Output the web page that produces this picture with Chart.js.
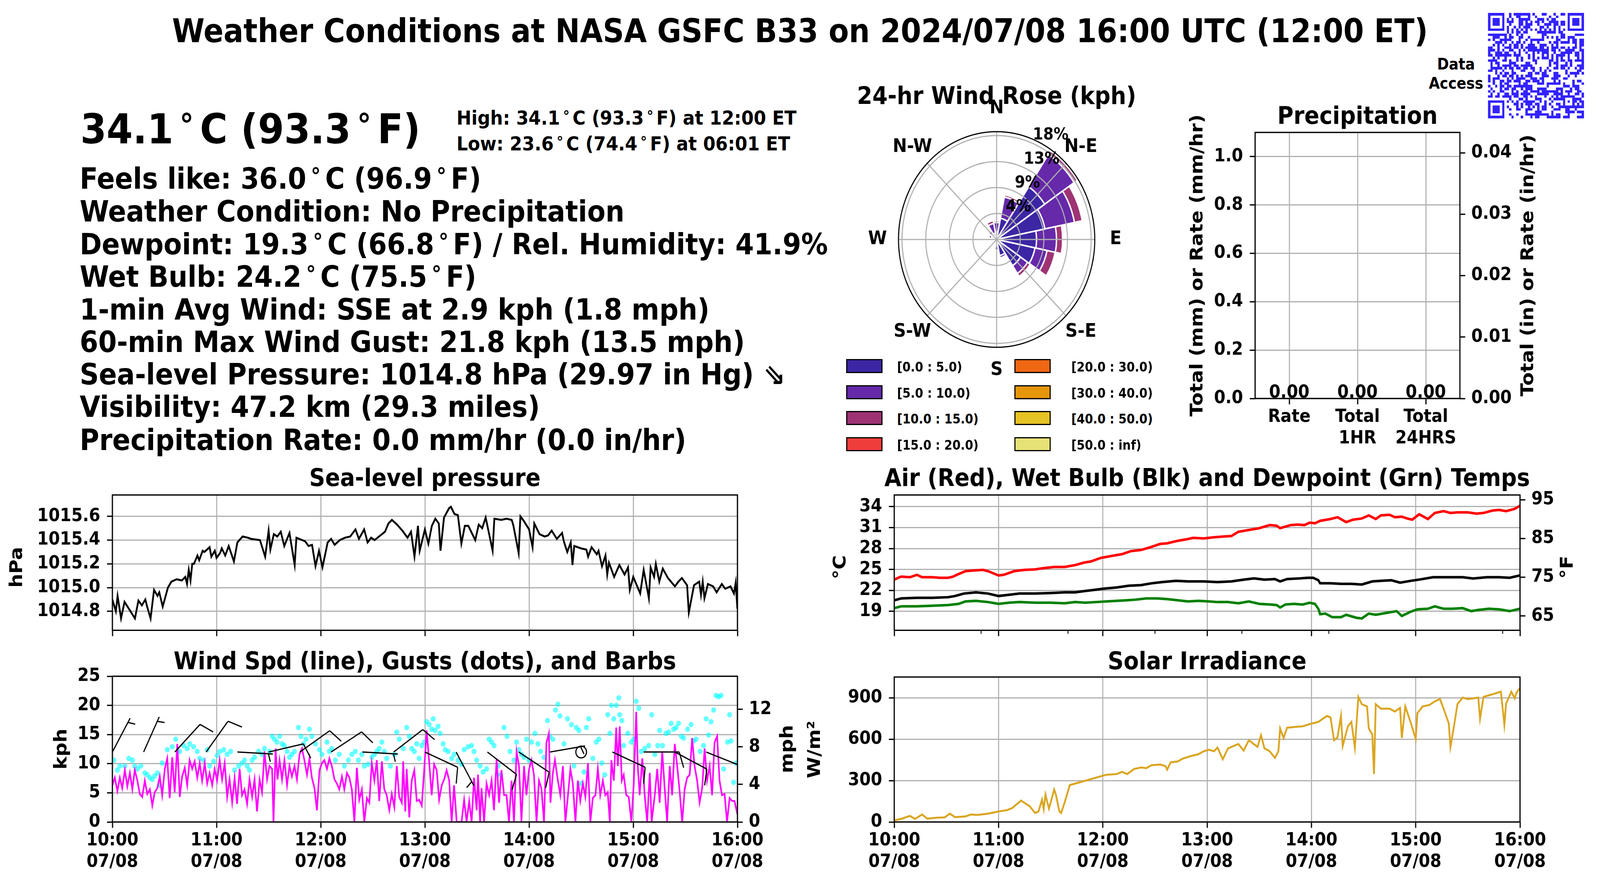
<!DOCTYPE html>
<html><head><meta charset="utf-8">
<script src="https://cdn.jsdelivr.net/npm/chart.js@4.4.1/dist/chart.umd.min.js"></script>
<style>
html,body{margin:0;padding:0;background:#fff;overflow:hidden;}
#page{width:4500px;height:2250px;position:absolute;left:0;top:0;overflow:hidden;transform-origin:0 0;font-family:"DejaVu Sans";font-weight:bold;color:#000;background:#fff;}
.t{position:absolute;white-space:nowrap;line-height:1;}
.dg{font-size:0.75em;position:relative;top:-0.24em;margin:0 0.22em;}
.lb{position:absolute;width:96px;height:30px;border:3px solid #000;}
canvas{position:absolute;}
</style></head><body>
<div id="page">
<div class="t" style="left:0;width:4500px;text-align:center;top:38px;font-size:83px">Weather Conditions at NASA GSFC B33 on 2024/07/08 16:00 UTC (12:00 ET)</div>
<div class="t" style="left:4000px;width:190px;text-align:center;top:144px;font-size:40px">Data</div>
<div class="t" style="left:4000px;width:190px;text-align:center;top:193px;font-size:40px">Access</div>
<div class="t" style="left:226px;top:278px;font-size:106px">34.1<span class="dg">°</span>C (93.3<span class="dg">°</span>F)</div>
<div class="t" style="left:1284px;top:277px;font-size:50px">High: 34.1<span class="dg">°</span>C (93.3<span class="dg">°</span>F) at 12:00 ET</div>
<div class="t" style="left:1284px;top:343px;font-size:50px">Low: 23.6<span class="dg">°</span>C (74.4<span class="dg">°</span>F) at 06:01 ET</div>
<div class="t" style="left:224px;top:420px;font-size:75px">Feels like: 36.0<span class="dg">°</span>C (96.9<span class="dg">°</span>F)</div>
<div class="t" style="left:224px;top:504px;font-size:75px">Weather Condition: No Precipitation</div>
<div class="t" style="left:224px;top:588px;font-size:75px">Dewpoint: 19.3<span class="dg">°</span>C (66.8<span class="dg">°</span>F) / Rel. Humidity: 41.9%</div>
<div class="t" style="left:224px;top:671px;font-size:75px">Wet Bulb: 24.2<span class="dg">°</span>C (75.5<span class="dg">°</span>F)</div>
<div class="t" style="left:224px;top:755px;font-size:75px">1-min Avg Wind: SSE at 2.9 kph (1.8 mph)</div>
<div class="t" style="left:224px;top:838px;font-size:75px">60-min Max Wind Gust: 21.8 kph (13.5 mph)</div>
<div class="t" style="left:224px;top:921px;font-size:75px">Sea-level Pressure: 1014.8 hPa (29.97 in Hg) ⇘</div>
<div class="t" style="left:224px;top:1004px;font-size:75px">Visibility: 47.2 km (29.3 miles)</div>
<div class="t" style="left:224px;top:1089px;font-size:75px">Precipitation Rate: 0.0 mm/hr (0.0 in/hr)</div>
</div>
<script>
// ---------------- DATA ----------------
const hourTicks = [0,60,120,180,240,300,360];
const hourLabels = ['10:00','11:00','12:00','13:00','14:00','15:00','16:00'];
const dateLabel = '07/08';

const pressureTicks = [1014.8,1015.0,1015.2,1015.4,1015.6];
const pressureSeries = [[0,1014.90],[2,1014.80],[3,1014.93],[5,1014.74],[7,1014.88],[13,1014.74],[15,1014.89],[17,1014.85],[19,1014.90],[20,1014.84],[22,1014.74],[24,1014.98],[26,1014.93],[27,1014.96],[29,1014.84],[32,1015.00],[34,1015.05],[37,1015.07],[40,1015.06],[42,1015.09],[43,1015.03],[44,1015.15],[45,1015.06],[46,1015.20],[47,1015.20],[49,1015.27],[50,1015.23],[52,1015.31],[53,1015.30],[56,1015.34],[57,1015.26],[59,1015.31],[60,1015.25],[62,1015.29],[63,1015.33],[65,1015.27],[67,1015.35],[70,1015.22],[72,1015.38],[75,1015.43],[78,1015.42],[80,1015.41],[85,1015.40],[88,1015.26],[90,1015.48],[91,1015.32],[93,1015.45],[95,1015.43],[97,1015.47],[99,1015.35],[102,1015.46],[105,1015.19],[106,1015.42],[111,1015.39],[113,1015.35],[115,1015.36],[117,1015.18],[119,1015.31],[121,1015.17],[124,1015.38],[126,1015.41],[128,1015.36],[131,1015.40],[134,1015.42],[137,1015.43],[140,1015.49],[142,1015.41],[145,1015.49],[147,1015.38],[149,1015.42],[151,1015.40],[157,1015.47],[159,1015.54],[161,1015.57],[164,1015.53],[167,1015.48],[170,1015.42],[172,1015.47],[174,1015.26],[176,1015.52],[177,1015.31],[180,1015.49],[182,1015.37],[184,1015.52],[186,1015.58],[188,1015.54],[189,1015.31],[191,1015.59],[194,1015.67],[195,1015.68],[197,1015.62],[199,1015.61],[201,1015.37],[203,1015.52],[205,1015.52],[209,1015.40],[211,1015.53],[213,1015.50],[215,1015.59],[217,1015.45],[219,1015.31],[220,1015.58],[224,1015.57],[227,1015.58],[230,1015.57],[231,1015.52],[234,1015.29],[235,1015.60],[237,1015.56],[240,1015.49],[242,1015.34],[243,1015.54],[246,1015.45],[249,1015.43],[251,1015.44],[253,1015.48],[256,1015.41],[259,1015.46],[260,1015.39],[262,1015.30],[264,1015.38],[265,1015.19],[266,1015.35],[270,1015.33],[273,1015.32],[274,1015.26],[276,1015.34],[279,1015.28],[280,1015.31],[282,1015.18],[284,1015.27],[285,1015.11],[286,1015.21],[289,1015.09],[292,1015.19],[295,1015.11],[297,1015.17],[298,1014.98],[300,1015.09],[304,1014.95],[306,1015.15],[309,1014.91],[310,1015.17],[312,1015.09],[313,1015.20],[315,1015.05],[317,1015.16],[320,1015.08],[324,1015.01],[326,1015.05],[328,1015.08],[331,1015.02],[332,1014.79],[335,1015.02],[338,1015.05],[339,1014.94],[340,1015.05],[341,1014.91],[343,1015.03],[346,1015.01],[348,1014.96],[351,1015.03],[353,1014.99],[356,1015.01],[358,1014.95],[359,1015.04],[360,1014.82]];

const kphTicks = [0,5,10,15,20,25];
const mphTicks = [0,2,4,6,8,10,12,14];
const windSpeed = [[0,6.3],[1.4,7.6],[2.9,5.3],[4.3,7.6],[5.7,5.8],[7.2,8.9],[8.6,6.1],[10.1,8.4],[11.5,5.6],[12.9,8.9],[14.4,7.1],[15.8,4.8],[17.2,4.3],[18.7,7.1],[20.1,4.8],[21.6,5.6],[23,2.8],[24.4,5.1],[25.9,5.8],[27.3,7.8],[28.7,4.6],[30.2,9.1],[31.6,10.9],[33,4.1],[34.5,11.1],[35.9,5.1],[37.4,13.4],[38.8,4.3],[40.2,7.8],[41.7,9.3],[43.1,6.3],[44.5,10.6],[46,9.1],[47.4,10.4],[48.9,7.6],[50.3,10.1],[51.7,7.1],[53.2,10.1],[54.6,6.6],[56,8.4],[57.5,6.3],[58.9,9.1],[60.3,7.1],[61.8,10.6],[63.2,7.3],[64.7,10.1],[66.1,4.3],[67.5,7.3],[69,3.3],[70.4,7.6],[71.8,3.1],[73.3,9.1],[74.7,4.6],[76.1,5.6],[77.6,3.1],[79,7.3],[80.5,4.3],[81.9,7.3],[83.3,1.8],[84.8,7.3],[86.2,5.1],[87.6,12.1],[89.1,7.3],[90.5,9.6],[92,9.1],[92.8,0],[94,12.6],[95.1,7.3],[96.3,10.6],[97.7,7.3],[99.1,10.6],[100.6,6.3],[102,9.6],[103.4,7.8],[104.9,9.6],[106.3,7.3],[107.8,11.6],[109.2,12.6],[110.6,10.6],[112.1,8.1],[113.5,10.9],[114.9,7.6],[116.4,5.8],[117.8,2.0],[119.3,8.9],[120.7,10.1],[122.1,10.6],[123.6,9.1],[125,10.9],[126.4,9.6],[127.9,7.3],[129.3,6.6],[130.7,5.6],[132.2,7.8],[133.6,5.6],[135.1,8.4],[136.5,7.6],[137.9,5.6],[139.4,0],[140.8,9.3],[142.2,3.8],[143.7,5.6],[145.1,0],[146.6,4.1],[148,3.3],[149.4,10.1],[150.9,7.1],[152.3,10.6],[153.7,3.6],[155.2,10.4],[156.6,5.6],[158,4.6],[159.5,2.0],[160.9,4.8],[162.4,2.5],[163.8,9.6],[165.2,4.3],[166.7,3.3],[167.5,10.4],[168.7,1.8],[169.5,9.1],[171,0.8],[172.4,7.1],[173.9,8.9],[175.3,3.6],[176.7,3.8],[178.2,2.8],[179.6,8.9],[181,15.7],[182.5,10.1],[183.9,4.6],[185.3,9.9],[186.8,8.9],[188.2,3.8],[189.7,6.3],[191.1,7.3],[192.5,8.9],[194,7.1],[195.4,0],[196.8,6.3],[198.3,0],[199.7,0],[201.1,0],[202.6,3.8],[204,0],[205.5,3.6],[206.9,0],[208.3,7.6],[209.8,2.0],[210.6,8.1],[211.8,0],[212.6,5.8],[214.1,0],[215.5,6.6],[217,4.6],[218.4,7.1],[219.8,2.0],[221.3,10.9],[222.7,3.3],[224.1,8.9],[225.6,4.6],[227,4.6],[228.4,0],[229.9,7.1],[231.3,0],[232.8,12.1],[234.2,9.6],[235.6,0],[237.1,9.6],[238.5,4.6],[239.9,8.9],[241.4,10.6],[242.8,8.1],[244.3,0],[245.7,7.1],[247.1,5.8],[248.6,0],[250,13.6],[251.4,15.2],[252.3,3.3],[253.7,8.4],[254.9,10.6],[256.6,7.1],[258,4.6],[259.5,9.6],[260.9,0],[262.4,4.6],[263.8,9.1],[265.2,6.6],[266.7,0],[268.1,7.1],[269.5,3.6],[271,6.6],[272.4,4.3],[273.9,10.1],[275.3,0],[276.7,4.1],[278.2,4.6],[279.6,9.1],[281,4.6],[282.5,7.1],[283.9,4.6],[285.3,5.1],[286.5,0],[287.4,10.6],[288.8,7.1],[290.2,16.2],[291.1,9.6],[292.2,16.4],[293.4,7.1],[294.5,8.1],[296,4.6],[297.4,4.3],[298.9,0],[300.3,6.6],[301.7,18.9],[302.6,9.6],[303.7,4.6],[305.2,10.9],[306.6,4.6],[308,0],[309.5,8.4],[310.6,0],[312.4,4.6],[313.8,9.1],[315.2,3.3],[316.7,12.1],[318.1,5.8],[319.5,0],[321,9.6],[322.4,4.6],[323.9,13.4],[325.3,9.6],[326.7,5.3],[328.2,0],[329.6,5.6],[331,7.6],[332.5,8.1],[333.9,14.4],[335.3,9.6],[336.8,7.1],[338.2,3.3],[339.7,5.8],[341.1,12.6],[342.5,7.1],[344,9.6],[345.4,4.6],[346.8,13.6],[348.3,14.7],[349.7,7.1],[351.1,4.6],[352.6,4.8],[354,0],[355.5,4.1],[356.9,3.6],[358.3,3.6],[360,1.3]];
const windGust = [[0.9,10.6],[2.9,8.9],[4.3,9.6],[7.2,9.6],[9.5,10.9],[11.5,10.6],[12.9,9.6],[14.4,9.1],[16.4,9.6],[18.7,8.4],[20.1,8.1],[21.6,7.6],[23,7.3],[24.4,7.9],[25.9,8.4],[27.3,6.3],[28.7,10.1],[31.6,12.4],[34.5,12.9],[36.5,14.2],[38.8,12.1],[41.1,13.1],[43.1,12.6],[44.5,13.4],[46.8,12.9],[48.9,12.1],[50.3,10.9],[52.6,10.6],[54.6,12.4],[56,9.6],[58.3,10.4],[60.3,11.4],[61.8,12.1],[64.1,12.4],[66.1,11.6],[68.1,12.1],[70.4,8.9],[72.7,9.6],[74.7,10.1],[76.1,10.6],[77.6,9.6],[79,8.9],[80.5,10.6],[81.9,11.1],[84.2,12.1],[86.2,11.6],[87.6,12.6],[90.5,12.1],[92,14.7],[93.4,14.2],[94.8,13.7],[96.3,14.7],[97.7,13.4],[99.1,13.1],[100.6,12.1],[102,11.1],[103.4,11.6],[104.9,12.1],[107.2,16.2],[108.6,14.7],[110.1,13.4],[111.5,14.2],[113.5,15.9],[114.9,14.7],[117,13.4],[119.3,12.4],[120.7,11.6],[123.6,13.7],[125,12.1],[126.4,12.6],[128.4,10.6],[130.7,11.6],[133.6,9.6],[135.9,10.6],[137.9,11.6],[139.9,12.1],[141.7,10.6],[143.7,11.6],[145.1,9.6],[147.4,9.9],[149.4,11.1],[150.9,11.6],[152.3,12.1],[153.7,12.6],[155.2,13.7],[156.6,12.1],[158,10.9],[160.1,9.6],[162.4,11.6],[163.8,15.4],[165.2,14.2],[167.5,12.6],[169.5,16.2],[171,14.7],[172.4,12.6],[173.9,12.1],[175.3,13.4],[176.7,10.9],[178.2,13.1],[179.6,13.7],[181,17.2],[182.5,16.7],[183.9,15.9],[184.8,17.7],[185.9,15.7],[187.6,16.4],[188.8,15.2],[190.5,13.4],[191.7,12.4],[193.4,12.1],[195.4,10.9],[196.8,11.6],[199.1,10.6],[201.1,9.9],[202.6,12.4],[204.9,12.9],[206.9,13.1],[208.3,12.1],[209.8,10.6],[211.8,9.6],[213.5,8.6],[215.5,9.1],[217,14.2],[218.4,13.7],[219.8,13.1],[222.1,9.6],[223.6,8.1],[225.6,16.2],[227.3,14.7],[229,12.1],[231.3,10.6],[232.8,13.7],[234.2,12.4],[235.6,11.6],[237.1,11.1],[238.5,14.2],[239.9,10.6],[241.4,13.7],[243.4,15.2],[245.1,13.4],[246.6,12.1],[248.6,11.1],[250.6,17.4],[252,14.7],[253.7,14.2],[255.2,19.2],[256.6,20.2],[257.8,18.2],[260.1,13.4],[262.1,17.7],[264.4,16.7],[265.8,9.6],[267.2,16.2],[268.7,15.7],[270.1,6.6],[271.6,8.6],[273,16.2],[274.4,17.7],[276.7,10.9],[278.7,13.7],[280.2,14.2],[281.9,10.1],[283.6,8.1],[285.3,18.4],[286.5,15.2],[287.4,20.0],[288.8,17.7],[290.2,20.0],[291.7,21.3],[292.2,18.4],[293.4,17.4],[294.5,13.1],[296.8,15.2],[298.9,13.7],[300.3,14.2],[301.7,20.7],[303.2,19.5],[304.6,12.1],[306.6,12.6],[308.9,13.1],[310.6,18.4],[312.4,11.6],[314.1,13.1],[315.2,15.7],[316.9,13.1],[318.9,15.2],[320.4,15.4],[321.8,16.9],[323.3,15.9],[324.7,16.2],[326.1,16.9],[327.6,14.7],[329,14.4],[331.3,15.9],[333.3,16.7],[334.8,13.9],[336.2,14.2],[338.5,12.1],[340.5,13.1],[342,17.7],[343.4,14.9],[344.8,17.2],[346.3,19.2],[347.7,21.7],[349.1,21.5],[350.6,21.7],[352,9.1],[354.3,13.7],[355.5,18.4],[356.3,13.9],[357.8,6.8],[359.2,10.1]];
const barbLevel = 12;
const barbTimes = [0,18,36,54,72,90,108,126,144,162,180,198,216,234,252,270,288,306,324,342];
const barbDir   = [30,26,45,38,93,78,57,59,93,55,113,150,125,121,81,0,113,90,116,110];
const barbSpeed = [5,5,10,10,5,10,10,10,5,10,10,5,10,10,5,0,10,10,10,10];

const tempTicksC = [19,22,25,28,31,34];
const tempTicksF = [65,70,75,80,85,90,95];
const airTemp = [[0,23.54],[3,23.88],[4,23.97],[9,23.88],[13,24.23],[16,23.88],[22,23.88],[26,23.80],[31,23.80],[34,23.97],[36,24.23],[41,24.75],[45,24.84],[51,24.93],[54,24.75],[60,24.14],[63,24.23],[69,24.75],[75,24.93],[81,25.01],[86,25.19],[92,25.36],[98,25.36],[104,25.62],[109,25.97],[113,26.14],[119,26.66],[125,26.93],[131,27.19],[136,27.62],[142,27.79],[148,28.23],[153,28.66],[157,28.75],[163,29.10],[169,29.36],[172,29.53],[178,29.45],[184,29.62],[189,29.71],[194,29.79],[198,30.40],[204,30.66],[210,30.92],[216,31.36],[220,31.27],[222,30.92],[228,31.36],[232,31.44],[236,31.36],[239,31.71],[242,31.62],[245,31.97],[251,32.23],[255,32.49],[260,31.79],[264,32.14],[269,32.31],[273,32.75],[277,32.23],[280,32.75],[285,32.84],[288,32.49],[292,32.57],[295,32.31],[298,32.14],[302,32.92],[307,32.23],[311,33.10],[316,33.36],[320,33.10],[324,33.18],[330,33.18],[335,33.01],[339,33.10],[344,33.44],[348,33.53],[352,33.36],[357,33.70],[360,34.14]];
const wetBulb = [[0,20.58],[4,20.84],[13,20.93],[22,20.93],[31,21.02],[35,21.19],[40,21.54],[47,21.71],[54,21.54],[60,21.19],[66,21.36],[72,21.54],[81,21.54],[90,21.62],[98,21.71],[104,21.71],[109,21.88],[115,22.06],[120,22.23],[128,22.41],[135,22.67],[142,22.75],[148,23.01],[154,23.19],[162,23.36],[169,23.28],[178,23.28],[186,23.19],[194,23.28],[201,23.54],[207,23.71],[213,23.54],[219,23.62],[222,23.28],[226,23.62],[233,23.71],[238,23.80],[241,23.80],[244,23.45],[245,23.01],[251,23.01],[257,22.93],[263,22.93],[269,22.84],[275,23.28],[280,23.36],[286,23.45],[291,23.10],[297,23.36],[302,23.54],[310,23.88],[316,23.88],[322,23.88],[327,23.88],[333,23.71],[341,23.88],[348,23.88],[354,23.80],[360,24.14]];
const dewPoint = [[0,19.45],[4,19.71],[13,19.71],[22,19.80],[31,19.89],[37,20.06],[41,20.41],[47,20.49],[54,20.32],[60,20.06],[66,20.23],[72,20.32],[81,20.23],[90,20.23],[98,20.15],[104,20.32],[110,20.23],[116,20.32],[122,20.41],[128,20.49],[134,20.58],[139,20.67],[145,20.84],[151,20.84],[157,20.75],[163,20.58],[169,20.41],[175,20.49],[181,20.41],[186,20.32],[192,20.32],[198,20.15],[204,20.41],[210,20.06],[216,19.97],[220,19.89],[222,19.54],[225,19.97],[230,20.06],[235,19.97],[239,20.23],[242,20.06],[244,19.36],[245,18.58],[248,18.67],[252,18.15],[257,18.15],[260,18.49],[266,18.06],[269,17.97],[273,18.67],[277,18.49],[283,18.76],[289,19.02],[292,18.32],[297,18.93],[301,19.28],[307,19.36],[311,19.71],[316,19.36],[321,19.36],[327,19.45],[332,19.02],[336,19.19],[342,19.36],[348,19.28],[354,19.02],[360,19.36]];
const minorTempTicks = [50,100,150,200,250,350];

const solarTicks = [0,150,300,450,600,750,900,1050];
const solar = [[0,12],[4,22],[9,44],[12,22],[16,54],[19,24],[25,31],[29,33],[32,60],[35,35],[41,40],[44,54],[48,51],[54,60],[60,76],[65,86],[68,102],[70,124],[73,155],[76,129],[78,113],[81,65],[83,76],[85,161],[86,92],[87,198],[89,97],[90,140],[92,235],[93,198],[95,76],[96,65],[98,140],[101,267],[104,278],[110,299],[116,321],[122,342],[128,347],[131,363],[134,347],[138,384],[142,395],[145,390],[148,411],[153,416],[156,405],[157,379],[159,432],[163,438],[166,459],[170,475],[175,491],[178,512],[181,523],[184,512],[186,539],[189,454],[192,533],[195,549],[198,565],[201,517],[204,592],[209,544],[211,629],[213,533],[216,512],[219,464],[221,512],[222,677],[224,608],[226,683],[230,688],[235,693],[239,709],[244,725],[247,752],[249,768],[251,757],[253,592],[255,613],[257,768],[258,550],[261,693],[263,725],[265,539],[267,906],[269,853],[272,837],[273,677],[275,635],[276,347],[277,853],[280,821],[285,821],[288,800],[291,826],[292,608],[294,837],[297,725],[298,683],[300,603],[301,789],[304,837],[308,848],[311,874],[314,890],[316,821],[319,715],[320,544],[322,693],[324,853],[327,901],[330,890],[333,895],[336,901],[337,747],[339,906],[342,917],[345,928],[349,944],[351,704],[352,858],[355,944],[357,895],[358,938],[360,970]];

const precipCats = ['Rate',['Total','1HR'],['Total','24HRS']];
const precipVals = [0,0,0];
const precipTicksMm = [0,0.2,0.4,0.6,0.8,1.0];
const precipTicksIn = [0,0.01,0.02,0.03,0.04];

const roseDirs = ['N','NNE','NE','ENE','E','ESE','SE','SSE','S','SSW','SW','WSW','W','WNW','NW','NNW'];
const roseBinLabels = ['[0.0 : 5.0)','[5.0 : 10.0)','[10.0 : 15.0)','[15.0 : 20.0)','[20.0 : 30.0)','[30.0 : 40.0)','[40.0 : 50.0)','[50.0 : inf)'];
const roseColors = ['#3c26a4','#6529a9','#9e3374','#ef3d3b','#ef6713','#e5960b','#e5c324','#e6e276'];
const roseBins = [
  [1.3,3.7,10.85,9.25,7.5,7.35,5.4,2.8,1.8,0.9,0.6,0.7,0.9,1.0,1.2,1.1],
  [1.6,3.7,6.65,5.65,3.75,2.3,1.6,0.4,0,0.2,0.2,0.3,0.4,0.5,0.6,1.7],
  [0.3,0.4,0.7,1.5,1.15,1.55,0.6,0.1,0,0,0,0,0.1,0.1,0.2,0.5],
  [0,0,0,0,0,0,0,0,0,0,0,0,0,0,0,0],
  [0,0,0,0,0,0,0,0,0,0,0,0,0,0,0,0],
  [0,0,0,0,0,0,0,0,0,0,0,0,0,0,0,0],
  [0,0,0,0,0,0,0,0,0,0,0,0,0,0,0,0],
  [0,0,0,0,0,0,0,0,0,0,0,0,0,0,0,0]
];
const roseTicks = [4.44,8.88,13.32,17.76];
const roseMax = 18.43;
const compassLabels = ['N','N-E','E','S-E','S','S-W','W','N-W'];

// ---------------- PAGE SCALE: map the 4500x2250 design onto the actual viewport ----------------
const PAGE = document.getElementById('page');
const IW = window.innerWidth||4500, IH = window.innerHeight||2250;
const SX = IW/4500, SY = IH/2250;
PAGE.style.transform = 'scale(' + SX + ',' + SY + ')';
const DPR = (window.devicePixelRatio||1) * Math.max(SX, SY);

// ---------------- SETUP ----------------
const GRID = '#b0b0b0';
Chart.defaults.font.family = '"DejaVu Sans"';
Chart.defaults.font.weight = 'bold';
Chart.defaults.font.size = 46;
Chart.defaults.color = '#000';
Chart.defaults.devicePixelRatio = DPR;
Chart.defaults.animation = false;
Chart.defaults.responsive = false;
Chart.defaults.maintainAspectRatio = false;
Chart.defaults.plugins.legend.display = false;
Chart.defaults.plugins.tooltip.enabled = false;

function place(x,y,w,h){
  const c=document.createElement('canvas'); c.width=w; c.height=h;
  c.style.left=x+'px'; c.style.top=y+'px'; c.style.width=w+'px'; c.style.height=h+'px';
  PAGE.appendChild(c); return c;
}
const pts = arr => arr.map(p=>({x:p[0],y:p[1]}));

const framePlugin = { id:'frame', afterDraw(chart){
  const a=chart.chartArea, c=chart.ctx; c.save(); c.strokeStyle='#000'; c.lineWidth=3.3;
  c.strokeRect(a.left,a.top,a.right-a.left,a.bottom-a.top); c.restore(); } };
const txtPlugin = { id:'txt', afterDraw(chart,args,o){
  const c=chart.ctx, off=o.origin||[0,0];
  (o.items||[]).forEach(it=>{ c.save(); c.font='bold '+it.s+'px "DejaVu Sans"'; c.fillStyle='#000';
    c.textAlign='center'; c.textBaseline='middle'; c.translate(it.x-off[0], it.y-off[1]);
    if(it.r) c.rotate(it.r*Math.PI/180); c.fillText(it.t,0,0); c.restore(); }); } };
const minorPlugin = { id:'minor', afterDraw(chart,args,o){
  if(!o.values) return; const xs=chart.scales.x, c=chart.ctx, b=chart.chartArea.bottom;
  c.save(); c.strokeStyle='#000'; c.lineWidth=2.5;
  o.values.forEach(v=>{ const x=xs.getPixelForValue(v); c.beginPath(); c.moveTo(x,b); c.lineTo(x,b+9); c.stroke(); });
  c.restore(); } };

function timeAxis(showLabels, H){
  return { type:'linear', min:0, max:360,
    afterBuildTicks:s=>{ s.ticks = hourTicks.map(v=>({value:v})); },
    afterFit:s=>{ s.height=H; },
    ticks:{ autoSkip:false, maxRotation:0, minRotation:0, padding:5,
      callback:(v,i)=> showLabels ? [hourLabels[i], dateLabel] : '' },
    grid:{ color:GRID, lineWidth:3, tickColor:'#000', tickLength:15, tickWidth:3.3 },
    border:{ display:false } };
}
function valAxis(pos, min, max, ticks, fmt, W, onChart){
  return { type:'linear', position:pos, min:min, max:max,
    afterBuildTicks:s=>{ s.ticks = ticks.map(v=>({value:v})); },
    afterFit:s=>{ s.width=W; },
    ticks:{ padding: pos==='left'?19:17, callback:v=>fmt(v) },
    grid:{ color:GRID, lineWidth:3, tickColor:'#000', tickLength:15, tickWidth:3.3, drawOnChartArea:onChart },
    border:{ display:false } };
}

// ---------------- SEA-LEVEL PRESSURE ----------------
new Chart(place(0,1150,2300,510), {
  type:'line',
  data:{ datasets:[{ data:pts(pressureSeries), borderColor:'#000', borderWidth:5, pointRadius:0, clip:0 }] },
  options:{ layout:{ padding:{ left:0, right:226, top:117, bottom:0 } },
    scales:{ x:timeAxis(false,23), y:valAxis('left',1014.64,1015.78,pressureTicks,v=>v.toFixed(1),316,true) },
    plugins:{ txt:{ origin:[0,1150], items:[
      {t:'Sea-level pressure',x:1195,y:1228,s:62},
      {t:'hPa',x:49,y:1452,s:50,r:-90} ] } } },
  plugins:[framePlugin, txtPlugin]
});

// ---------------- WIND ----------------
const barbPlugin = { id:'barbs', afterDatasetsDraw(chart){
  const xs=chart.scales.x, ys=chart.scales.y, c=chart.ctx, a=chart.chartArea;
  c.save(); c.beginPath(); c.rect(a.left,a.top,a.right-a.left,a.bottom-a.top); c.clip();
  c.strokeStyle='#000'; c.lineWidth=3.2; c.lineJoin='round';
  const L=100, FH=40, FW=12.5, SP=12.5;
  barbTimes.forEach((t,i)=>{
    const x0=xs.getPixelForValue(t), y0=ys.getPixelForValue(barbLevel), sp=barbSpeed[i];
    if(sp<2.5){ c.beginPath(); c.arc(x0,y0,15,0,2*Math.PI); c.stroke(); return; }
    const th=barbDir[i]*Math.PI/180, ux=Math.sin(th), uy=-Math.cos(th), px=-uy, py=ux;
    const tx=x0+L*ux, ty=y0+L*uy;
    c.beginPath(); c.moveTo(x0,y0); c.lineTo(tx,ty);
    const n10=Math.floor(sp/10), n5=Math.floor((sp%10)/5);
    let pos=0;
    for(let k=0;k<n10;k++){ const bx=tx-pos*ux, by=ty-pos*uy; c.moveTo(bx,by); c.lineTo(bx+FH*px+FW*ux, by+FH*py+FW*uy); pos+=SP; }
    if(n5){ if(n10===0) pos=SP; const bx=tx-pos*ux, by=ty-pos*uy; c.moveTo(bx,by); c.lineTo(bx+FH/2*px+FW/2*ux, by+FH/2*py+FW/2*uy); }
    c.stroke();
  });
  c.restore(); } };
new Chart(place(0,1640,2300,610), {
  type:'line',
  data:{ datasets:[
    { data:pts(windSpeed), borderColor:'#ff00ff', borderWidth:4.5, pointRadius:0, clip:0, order:0 },
    { data:pts(windGust), showLine:false, pointRadius:7, pointBorderWidth:0, pointBackgroundColor:'rgba(0,255,255,0.6)', borderColor:'rgba(0,255,255,0.6)', clip:0, order:1 } ] },
  options:{ layout:{ padding:{ left:0, right:0, top:91, bottom:0 } },
    scales:{ x:timeAxis(true,146),
      y:valAxis('left',0,25,kphTicks,v=>String(v),316,true),
      y2:valAxis('right',0,25/1.609344,mphTicks,v=>String(v),226,false) },
    plugins:{ txt:{ origin:[0,1640], items:[
      {t:'Wind Spd (line), Gusts (dots), and Barbs',x:1195,y:1697,s:62},
      {t:'kph',x:174,y:1917.5,s:50,r:-90},
      {t:'mph',x:2216,y:1917.5,s:50,r:-90} ] } } },
  plugins:[barbPlugin, framePlugin, txtPlugin]
});

// ---------------- TEMPERATURES ----------------
const T_MIN=16.27, T_MAX=35.68;
new Chart(place(2250,1150,2250,510), {
  type:'line',
  data:{ datasets:[
    { data:pts(airTemp), borderColor:'#ff0000', borderWidth:6.5, pointRadius:0, clip:0 },
    { data:pts(wetBulb), borderColor:'#000000', borderWidth:6.5, pointRadius:0, clip:0 },
    { data:pts(dewPoint), borderColor:'#008000', borderWidth:6.5, pointRadius:0, clip:0 } ] },
  options:{ layout:{ padding:{ left:0, right:0, top:117, bottom:0 } },
    scales:{ x:timeAxis(false,23),
      y:valAxis('left',T_MIN,T_MAX,tempTicksC,v=>String(v),265,true),
      y2:valAxis('right',T_MIN*1.8+32,T_MAX*1.8+32,tempTicksF,v=>String(v),225,false) },
    plugins:{ minor:{ values:minorTempTicks }, txt:{ origin:[2250,1150], items:[
      {t:'Air (Red), Wet Bulb (Blk) and Dewpoint (Grn) Temps',x:3395,y:1228,s:62},
      {t:'°C',x:2365,y:1452,s:50,r:-90},
      {t:'°F',x:4410,y:1452,s:50,r:-90} ] } } },
  plugins:[framePlugin, txtPlugin, minorPlugin]
});

// ---------------- SOLAR ----------------
new Chart(place(2250,1640,2250,610), {
  type:'line',
  data:{ datasets:[{ data:pts(solar), borderColor:'#daa520', borderWidth:5, pointRadius:0, clip:0 }] },
  options:{ layout:{ padding:{ left:0, right:225, top:93, bottom:0 } },
    scales:{ x:timeAxis(true,146), y:valAxis('left',0,1050,solarTicks,v=>String(v),265,true) },
    plugins:{ txt:{ origin:[2250,1640], items:[
      {t:'Solar Irradiance',x:3395,y:1697,s:62},
      {t:'W/m²',x:2293,y:1918.5,s:50,r:-90} ] } } },
  plugins:[framePlugin, txtPlugin]
});

// ---------------- PRECIPITATION ----------------
const barLabelPlugin = { id:'barlab', afterDatasetsDraw(chart){
  const xs=chart.scales.x, ys=chart.scales.y, c=chart.ctx;
  c.save(); c.font='bold 46px "DejaVu Sans"'; c.fillStyle='#000'; c.textAlign='center'; c.textBaseline='alphabetic';
  precipVals.forEach((v,i)=>{ c.fillText(v.toFixed(2), xs.getPixelForValue(i), ys.getPixelForValue(v)-2); });
  c.restore(); } };
new Chart(place(3296,230,1070,930), {
  type:'bar',
  data:{ labels:precipCats, datasets:[{ data:precipVals, backgroundColor:'#1f77b4' }] },
  options:{ layout:{ padding:{ left:0, right:0, top:109, bottom:0 } },
    scales:{
      x:{ type:'category', offset:true, afterFit:s=>{ s.height=140; },
        ticks:{ padding:5, maxRotation:0, autoSkip:false },
        grid:{ offset:false, color:GRID, lineWidth:3, tickColor:'#000', tickLength:15, tickWidth:3.3 }, border:{display:false} },
      y:valAxis('left',0,1.1,precipTicksMm,v=>v.toFixed(1),234,true),
      y2:valAxis('right',0,1.1/25.4,precipTicksIn,v=>v.toFixed(2),260,false) },
    plugins:{ txt:{ origin:[3296,230], items:[
      {t:'Precipitation',x:3818,y:301,s:62},
      {t:'Total (mm) or Rate (mm/hr)',x:3369,y:679.5,s:50,r:-90},
      {t:'Total (in) or Rate (in/hr)',x:4299,y:679.5,s:50,r:-90} ] } } },
  plugins:[framePlugin, txtPlugin, barLabelPlugin]
});

// ---------------- WIND ROSE ----------------
const roseCum = roseBins.map((_,k)=> roseDirs.map((_,d)=> roseBins.slice(0,k+1).reduce((s,b)=>s+b[d],0)));
const rosePlugin = { id:'rose',
  afterDatasetsDraw(chart){
    const s=chart.scales.r, c=chart.ctx; c.save(); c.strokeStyle=GRID; c.lineWidth=3;
    for(let k=0;k<8;k++){ const a=k*Math.PI/4; c.beginPath(); c.moveTo(s.xCenter,s.yCenter);
      c.lineTo(s.xCenter+s.drawingArea*Math.sin(a), s.yCenter-s.drawingArea*Math.cos(a)); c.stroke(); }
    c.restore(); },
  afterDraw(chart){
    const s=chart.scales.r, c=chart.ctx; c.save(); c.fillStyle='#000';
    c.font='bold 48px "DejaVu Sans"'; c.textAlign='center'; c.textBaseline='middle';
    const R=s.drawingArea+59;
    compassLabels.forEach((t,k)=>{ const a=k*Math.PI/4; c.fillText(t, s.xCenter+R*Math.sin(a), s.yCenter-R*Math.cos(a)); });
    c.font='bold 42px "DejaVu Sans"'; c.textAlign='left'; c.textBaseline='bottom';
    const a=22.5*Math.PI/180;
    roseTicks.forEach(v=>{ const r=s.getDistanceFromCenterForValue(v); c.fillText(Math.round(v)+'%', s.xCenter+r*Math.sin(a), s.yCenter-r*Math.cos(a)); });
    c.restore(); } };
new Chart(place(2407,160,792,849), {
  type:'polarArea',
  data:{ labels:roseDirs, datasets: roseCum.map((arr,k)=>({ data:arr, backgroundColor:roseColors[k], borderColor:'#ffffff', borderWidth:4 })) },
  options:{ layout:{ padding:{ left:120, right:120, top:177, bottom:120 } },
    scales:{ r:{ min:0, max:roseMax, startAngle:-11.25,
      afterBuildTicks:s=>{ s.ticks=[0].concat(roseTicks,[roseMax]).map(v=>({value:v})); },
      ticks:{ display:false }, pointLabels:{ display:false }, angleLines:{ display:false },
      grid:{ circular:true, z:1, color:c=> (c.tick && c.tick.value>=roseMax-1e-6) ? '#000' : GRID, lineWidth:3 } } },
    plugins:{ txt:{ origin:[2407,160], items:[ {t:'24-hr Wind Rose (kph)',x:2803,y:250,s:62} ] } } },
  plugins:[rosePlugin, txtPlugin]
});
// legend
roseBinLabels.forEach((lab,k)=>{
  const col=Math.floor(k/4), row=k%4;
  const bx = col===0?2380:2853, tx = col===0?2523:3013, by = 919+row*66.7;
  const b=document.createElement('div'); b.className='lb'; b.style.left=bx+'px'; b.style.top=by+'px'; b.style.background=roseColors[k]; PAGE.appendChild(b);
  const t=document.createElement('div'); t.className='t'; t.style.left=tx+'px'; t.style.top=(by+4)+'px'; t.style.fontSize='33px'; t.textContent=lab; PAGE.appendChild(t);
});

// ---------------- QR code (decorative) ----------------
(function(){
  const N=41, S=270, c=place(4185,33,S,S), g=c.getContext('2d'); g.fillStyle='#3322ff';
  const m=S/N;
  function finder(r,cc,r0,c0){ const a=r-r0, b=cc-c0; if(a<0||a>6||b<0||b>6) return null; return (a===0||a===6||b===0||b===6||(a>=2&&a<=4&&b>=2&&b<=4)); }
  function bit(r,cc){ let h=Math.imul(r+1,374761393)^Math.imul(cc+7,668265263); h=Math.imul(h^(h>>>13),1274126177); return ((h^(h>>>16))>>>3)&1; }
  for(let r=0;r<N;r++) for(let cc=0;cc<N;cc++){
    let d=null;
    for(const [r0,c0] of [[0,0],[0,N-7],[N-7,0]]){ const f=finder(r,cc,r0,c0); if(f!==null) d=f; }
    if(d===null){
      if((r<=7&&cc<=7)||(r<=7&&cc>=N-8)||(r>=N-8&&cc<=7)) d=false;
      else if(r>=32&&r<=36&&cc>=32&&cc<=36){ const a=r-34,b=cc-34; d=(Math.max(Math.abs(a),Math.abs(b))!==1); }
      else if(r===6) d=(cc%2===0);
      else if(cc===6) d=(r%2===0);
      else d=!!bit(r,cc);
    }
    if(d){ const x0=Math.round(cc*m), y0=Math.round(r*m); g.fillRect(x0,y0,Math.round((cc+1)*m)-x0,Math.round((r+1)*m)-y0); }
  }
})();
</script>
</body></html>
